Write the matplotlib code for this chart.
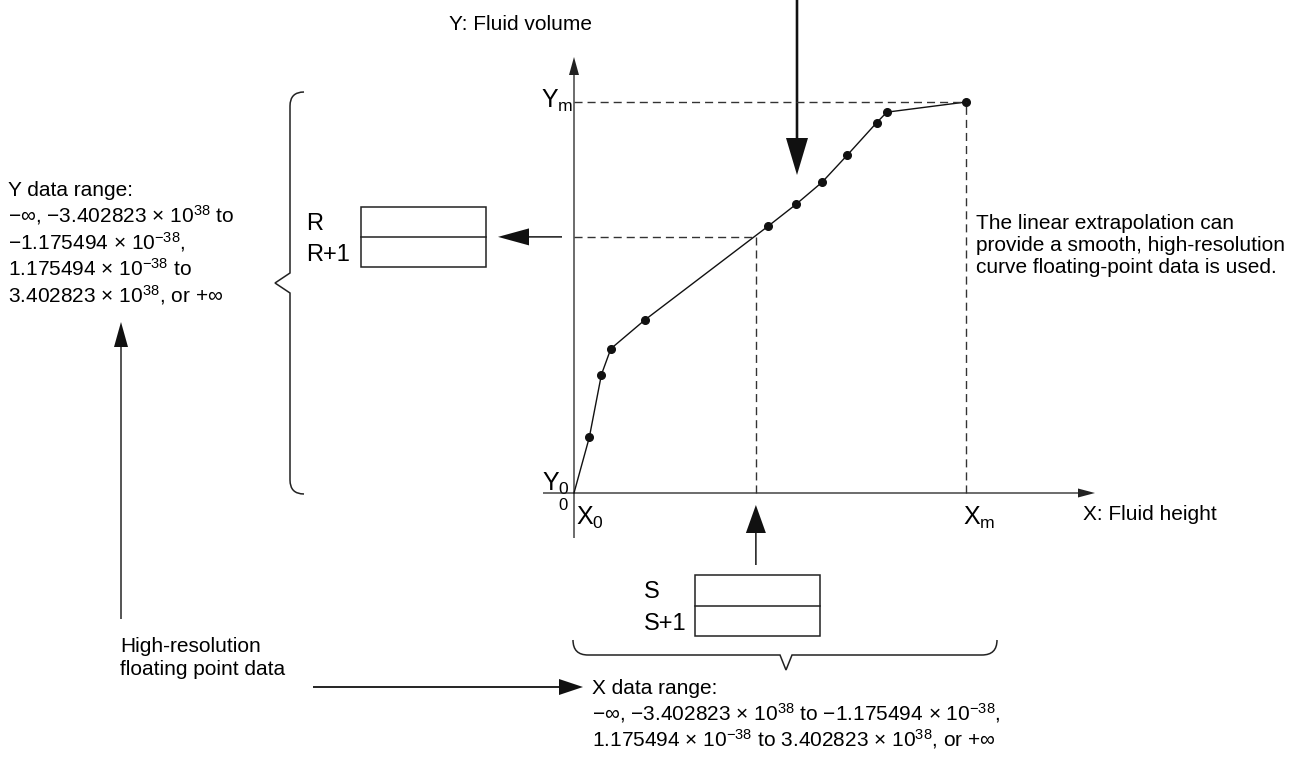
import numpy as np
import matplotlib
matplotlib.use("Agg")
import matplotlib.pyplot as plt
from matplotlib.path import Path
from matplotlib.patches import PathPatch, Rectangle

plt.rcParams['font.family'] = ['Liberation Sans', 'DejaVu Sans']
plt.rcParams['mathtext.fontset'] = 'custom'
plt.rcParams['mathtext.rm'] = 'Liberation Sans'
plt.rcParams['mathtext.it'] = 'Liberation Sans:italic'
plt.rcParams['mathtext.default'] = 'regular'

# curve data (X0..Xm = 0..10, Y0..Ym = 0..10)
curve_x = [0, 0.39, 0.70, 0.94, 1.80, 4.96, 5.66, 6.33, 6.97, 7.72, 7.98, 10]
curve_y = [0, 1.42, 3.03, 3.69, 4.42, 6.83, 7.38, 7.95, 8.64, 9.47, 9.74, 10]
x_m, y_m = 10, 10
query_x, query_y = 4.64, 6.55

y_range_lines = ["Y data range:",
                 "\u2212\u221e, \u22123.402823 \u00d7 $10^{38}$ to",
                 "\u22121.175494 \u00d7 $10^{-38}$,",
                 "1.175494 \u00d7 $10^{-38}$ to",
                 "3.402823 \u00d7 $10^{38}$, or +\u221e"]
x_range_lines = ["X data range:",
                 "\u2212\u221e, \u22123.402823 \u00d7 $10^{38}$ to \u22121.175494 \u00d7 $10^{-38}$,",
                 "1.175494 \u00d7 $10^{-38}$ to 3.402823 \u00d7 $10^{38}$, or +\u221e"]
note_lines = ["The linear extrapolation can",
              "provide a smooth, high-resolution",
              "curve floating-point data is used."]
src_lines = ["High-resolution", "floating point data"]

W, H = 1307, 763
fig = plt.figure(figsize=(W / 100, H / 100), dpi=100)

# overlay in pixel coordinates
ax = fig.add_axes([0, 0, 1, 1])
ax.set_xlim(0, W)
ax.set_ylim(H, 0)
ax.axis('off')

# chart axes: origin at (574, 493), Xm at 966, Ym at 102
ox, oy, xm_px, ym_px = 574, 493, 966, 102
cax = fig.add_axes([ox / W, (H - oy) / H, (xm_px - ox) / W, (oy - ym_px) / H])
cax.set_xlim(0, x_m)
cax.set_ylim(0, y_m)
cax.axis('off')
cax.patch.set_alpha(0)

ux = x_m / (xm_px - ox)   # data units per pixel
uy = y_m / (oy - ym_px)

# axes with arrows
cax.arrow(0, -45 * uy, 0, (oy - 57 + 45) * uy, width=1.3 * ux, head_width=10 * ux,
          head_length=18 * uy, length_includes_head=True, fc='#222', ec='none', clip_on=False)
cax.arrow(-31 * ux, 0, (1095 - ox + 31) * ux, 0, width=1.3 * uy, head_width=9 * uy,
          head_length=17 * ux, length_includes_head=True, fc='#222', ec='none', clip_on=False)

# curve
cax.plot(curve_x, curve_y, color='#111', lw=1.0, clip_on=False)
cax.plot(curve_x[1:], curve_y[1:], 'o', color='#111', ms=5.5, clip_on=False)

# dashed guides
dash = dict(color='#333', lw=1.0, dashes=(5.8, 3.6), clip_on=False)
cax.plot([0, x_m], [y_m, y_m], **dash)
cax.plot([x_m, x_m], [0, y_m], **dash)
cax.plot([0, query_x], [query_y, query_y], **dash)
cax.plot([query_x, query_x], [0, query_y], **dash)

# pixel position of the query point
qpx, qpy = ax.transData.inverted().transform(cax.transData.transform((query_x, query_y)))

# axis labels
ax.text(592, 25, "Y: Fluid volume", fontsize=15, ha='right', va='center')
ax.text(1083, 515, "X: Fluid height", fontsize=15, ha='left', va='center')
ax.text(573, 108, "Y$_{m}$", fontsize=18, ha='right', va='baseline')
ax.text(570, 491, "Y$_{0}$", fontsize=18, ha='right', va='baseline')
ax.text(568, 510, "0", fontsize=12, ha='right', va='baseline')
ax.text(576, 525, "X$_{0}$", fontsize=18, ha='left', va='baseline')
ax.text(963, 525, "X$_{m}$", fontsize=18, ha='left', va='baseline')

# big arrow from the top
ax.arrow(797, 0, 0, 175, width=2.6, head_width=22, head_length=37,
         length_includes_head=True, fc='#111', ec='none')

# R box
ax.add_patch(Rectangle((361, 207), 125, 60, fill=False, ec='#222', lw=1.1))
ax.plot([361, 486], [237, 237], color='#222', lw=1.1)
ax.text(306, 230, "R", fontsize=17, ha='left', va='baseline')
ax.text(306, 261, "R+1", fontsize=17, ha='left', va='baseline')
ax.arrow(562, qpy, -64, 0, width=1.5, head_width=17, head_length=31,
         length_includes_head=True, fc='#111', ec='none')

# S box
ax.add_patch(Rectangle((695, 575), 125, 61, fill=False, ec='#222', lw=1.1))
ax.plot([695, 820], [606, 606], color='#222', lw=1.1)
ax.text(644, 598, "S", fontsize=17, ha='left', va='baseline')
ax.text(644, 630, "S+1", fontsize=17, ha='left', va='baseline')
ax.arrow(qpx, 565, 0, -60, width=1.5, head_width=20, head_length=28,
         length_includes_head=True, fc='#111', ec='none')

# braces
C, L, M = Path.CURVE3, Path.LINETO, Path.MOVETO
left_brace = Path([(304, 92), (290, 92), (290, 106), (290, 273), (275, 283),
                   (290, 293), (290, 480), (290, 494), (304, 494)],
                  [M, C, C, L, L, L, L, C, C])
ax.add_patch(PathPatch(left_brace, fill=False, ec='#222', lw=1.1))
bottom_brace = Path([(573, 640), (573, 655), (588, 655), (780, 655), (786, 670),
                     (792, 655), (982, 655), (997, 655), (997, 640)],
                    [M, C, C, L, L, L, L, C, C])
ax.add_patch(PathPatch(bottom_brace, fill=False, ec='#222', lw=1.1))

# Y data range text and arrow
for i, s in enumerate(y_range_lines):
    ax.text(8, 196 + i * 26.5, s, fontsize=15, ha='left', va='baseline')
ax.arrow(121, 619, 0, -297, width=1.4, head_width=14, head_length=25,
         length_includes_head=True, fc='#111', ec='none')

# source text and arrow to X data range
for i, s in enumerate(src_lines):
    ax.text(120, 652 + i * 23, s, fontsize=15, ha='left', va='baseline')
ax.arrow(313, 687, 270, 0, width=1.8, head_width=16, head_length=24,
         length_includes_head=True, fc='#111', ec='none')
for i, s in enumerate(x_range_lines):
    ax.text(592, 694 + i * 26, s, fontsize=15, ha='left', va='baseline')

# note on the right
for i, s in enumerate(note_lines):
    ax.text(976, 229 + i * 22, s, fontsize=15, ha='left', va='baseline')

fig.savefig("out.png", dpi=100)
